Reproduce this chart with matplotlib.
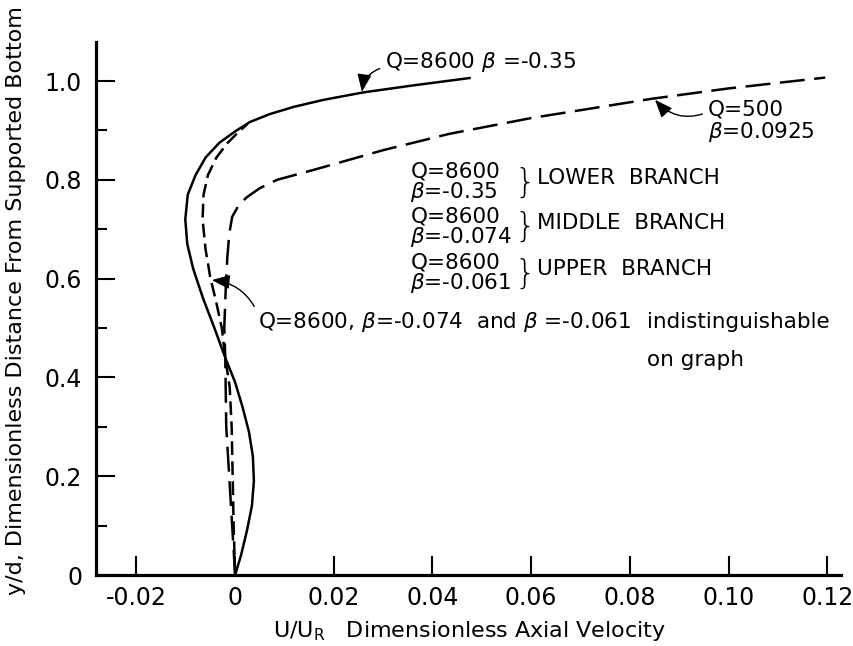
import numpy as np
import matplotlib.pyplot as plt

plt.rcParams['font.family'] = ['DejaVu Sans']
plt.rcParams['mathtext.fontset'] = 'dejavusans'

# Q=8600, beta=-0.35 (lower branch), solid
lower_u = [0.0, 0.0012, 0.0024, 0.0034, 0.0038, 0.0036, 0.0028, 0.0015, 0.0000,
           -0.0020, -0.0042, -0.0065, -0.0085, -0.0097, -0.0101, -0.0096, -0.0080,
           -0.0060, -0.0032, 0.0000, 0.0030, 0.0070, 0.0120, 0.0180, 0.0260,
           0.0360, 0.0475]
lower_y = [0.0, 0.04, 0.09, 0.14, 0.19, 0.24, 0.29, 0.34, 0.39,
           0.44, 0.50, 0.56, 0.62, 0.67, 0.72, 0.77, 0.81,
           0.845, 0.875, 0.898, 0.917, 0.933, 0.948, 0.962, 0.977,
           0.991, 1.006]

# Q=8600, beta=-0.074 / -0.061 (middle and upper branch), short dash
mid_u = [0.0, -0.0003, -0.0005, -0.0007, -0.0011, -0.0020, -0.0027, -0.0040,
         -0.0050, -0.0060, -0.0066, -0.0064, -0.0055, -0.0038, -0.0016, 0.0005, 0.0024]
mid_y = [0.0, 0.10, 0.20, 0.30, 0.38, 0.44, 0.50, 0.56,
         0.60, 0.66, 0.72, 0.77, 0.81, 0.845, 0.874, 0.895, 0.912]

# Q=500, beta=0.0925, long dash
q500_u = [0.0, -0.0006, -0.0012, -0.0018, -0.0020, -0.0022, -0.0019, -0.0016,
          -0.0012, -0.0006, 0.0008, 0.0024, 0.0050, 0.0085, 0.0166, 0.0300,
          0.0434, 0.0600, 0.0844, 0.1000, 0.1196]
q500_y = [0.0, 0.10, 0.20, 0.30, 0.44, 0.50, 0.58, 0.64,
          0.69, 0.725, 0.75, 0.765, 0.783, 0.80, 0.822, 0.860,
          0.893, 0.925, 0.964, 0.985, 1.007]

xticks = [-0.02, 0, 0.02, 0.04, 0.06, 0.08, 0.10, 0.12]
xtick_labels = ['-0.02', '0', '0.02', '0.04', '0.06', '0.08', '0.10', '0.12']
yticks = [0, 0.2, 0.4, 0.6, 0.8, 1.0]
ytick_labels = ['0', '0.2', '0.4', '0.6', '0.8', '1.0']

fig = plt.figure(figsize=(8.54, 6.46), dpi=100)
ax = fig.add_axes([0.1124, 0.1099, 0.8724, 0.8251])

ax.plot(lower_u, lower_y, color='black', lw=1.8)
ax.plot(mid_u, mid_y, color='black', lw=1.8, ls=(0, (5.5, 2.5)))
ax.plot(q500_u, q500_y, color='black', lw=1.8, ls=(0, (10, 3.8)))

ax.set_xlim(-0.0282, 0.1228)
ax.set_ylim(0, 1.079)
ax.set_xticks(xticks)
ax.set_xticklabels(xtick_labels)
ax.set_yticks(yticks)
ax.set_yticklabels(ytick_labels)
ax.set_yticks(np.arange(0.1, 1.0, 0.2), minor=True)

for s in ['top', 'right']:
    ax.spines[s].set_visible(False)
for s in ['left', 'bottom']:
    ax.spines[s].set_linewidth(2.3)

ax.tick_params(which='major', direction='in', length=14, width=1.5, labelsize=17)
ax.tick_params(which='minor', direction='in', length=8, width=1.5)
ax.tick_params(axis='y', pad=10)
ax.tick_params(axis='x', pad=8)

ax.set_xlabel(r'U/U$_\mathregular{R}$   Dimensionless Axial Velocity', fontsize=16)
ax.set_ylabel('y/d, Dimensionless Distance From Supported Bottom', fontsize=16)
ax.xaxis.set_label_coords(0.502, -0.082)
ax.yaxis.set_label_coords(-0.094, 0.515)

fs = 15.5
aprops = dict(arrowstyle='-|>,head_length=0.7,head_width=0.28', color='black',
              lw=1.0, shrinkA=2, shrinkB=0)

ax.annotate(r'Q=8600 $\beta$ =-0.35', xy=(0.0257, 0.978), xytext=(0.0304, 1.038),
            fontsize=fs, ha='left', va='center',
            arrowprops=dict(aprops, connectionstyle='arc3,rad=0.35', relpos=(0, 0.3)))

ax.annotate('Q=500\n' + r'$\beta$=0.0925', xy=(0.0851, 0.962), xytext=(0.0958, 0.917),
            fontsize=fs, ha='left', va='center', linespacing=1.05,
            arrowprops=dict(aprops, connectionstyle='arc3,rad=-0.35', relpos=(0, 0.72)))

ax.annotate(r'Q=8600, $\beta$=-0.074  and $\beta$ =-0.061', xy=(-0.0047, 0.597),
            xytext=(0.0047, 0.512), fontsize=fs, ha='left', va='center',
            arrowprops=dict(aprops, connectionstyle='arc3,rad=0.3', relpos=(0, 0.8)))
ax.text(0.0835, 0.512, 'indistinguishable', fontsize=fs, ha='left', va='center')
ax.text(0.0835, 0.435, 'on graph', fontsize=fs, ha='left', va='center')

branch_q = ['Q=8600\n' + r'$\beta$=-0.35', 'Q=8600\n' + r'$\beta$=-0.074',
            'Q=8600\n' + r'$\beta$=-0.061']
branch_names = ['LOWER  BRANCH', 'MIDDLE  BRANCH', 'UPPER  BRANCH']
branch_y = [0.794, 0.703, 0.609]
for q, name, yy in zip(branch_q, branch_names, branch_y):
    ax.text(0.0355, yy, q, fontsize=fs, ha='left', va='center', linespacing=0.92)
    ax.text(0.0587, yy, '}', fontsize=24, ha='center', va='center', fontweight='light')
    ax.text(0.0612, yy + 0.01, name, fontsize=fs, ha='left', va='center')

fig.savefig('out.png', dpi=100)
